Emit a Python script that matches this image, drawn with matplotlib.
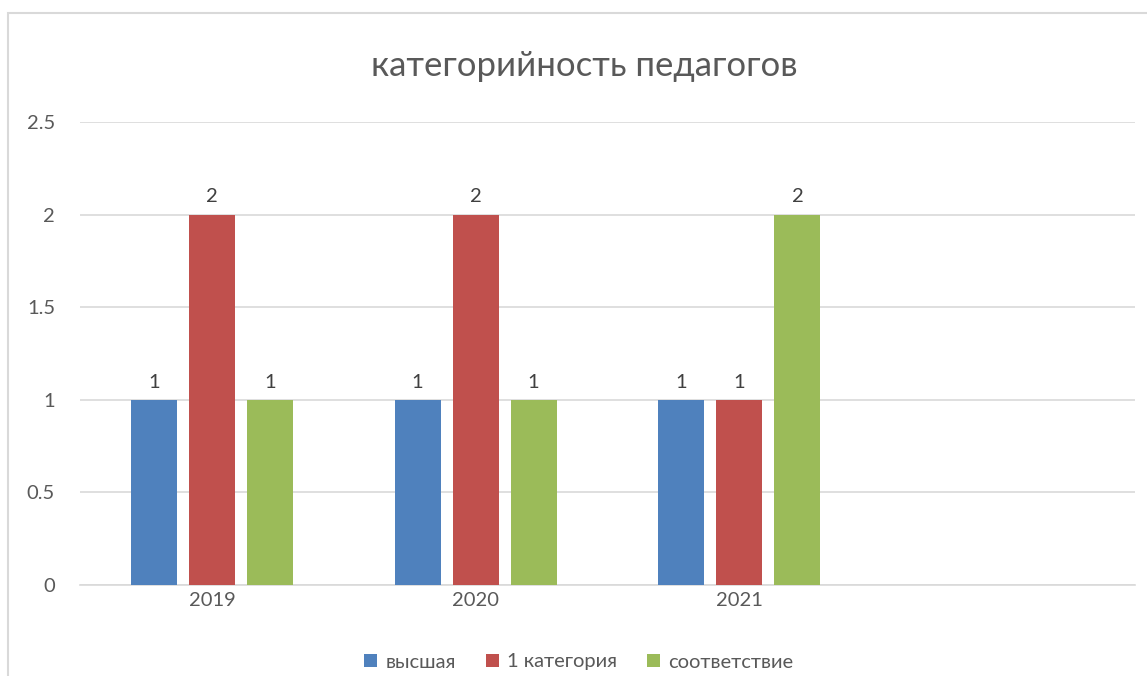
import matplotlib
matplotlib.use("Agg")
import matplotlib.pyplot as plt
from matplotlib.patches import Rectangle
import numpy as np

categories = ["2019", "2020", "2021", ""]
series_names = ["высшая", "1 категория", "соответствие"]
vals_high = [1, 1, 1, None]
vals_first = [2, 2, 1, None]
vals_match = [1, 1, 2, None]
colors = ["#4F81BD", "#C0504D", "#9BBB59"]
yticks = [0, 0.5, 1, 1.5, 2, 2.5]
ytick_labels = ["0", "0.5", "1", "1.5", "2", "2.5"]

plt.rcParams['font.family'] = ['Lato', 'DejaVu Sans']
W, H = 1147, 676
fig = plt.figure(figsize=(W/100, H/100), dpi=100)
# outer chart border (extends past right/bottom)
fig.patches.append(Rectangle((8/W, -0.1), 2, (H-13)/H + 0.1, transform=fig.transFigure,
                             fill=False, edgecolor="#D9D9D9", linewidth=1.5))

left, right, top, bottom = 80, 1135, 122, 585
ax = fig.add_axes([left/W, 1-bottom/H, (right-left)/W, (bottom-top)/H])
x = np.arange(len(categories))
bw = 0.1744
offs = [-0.22, 0, 0.22]
allv = [vals_high, vals_first, vals_match]
for i, (vals, name, c) in enumerate(zip(allv, series_names, colors)):
    xs = [xi + offs[i] for xi, v in zip(x, vals) if v is not None]
    vs = [v for v in vals if v is not None]
    bars = ax.bar(xs, vs, bw, color=c, label=name, zorder=3)
    for b, v in zip(bars, vs):
        ax.text(b.get_x() + b.get_width()/2, v + 0.05, str(v), ha="center", va="bottom",
                fontsize=14.5, color="#404040")

ax.set_xlim(-0.5, len(categories) - 0.5)
ax.set_ylim(0, 2.5)
ax.set_yticks(yticks)
ax.set_yticklabels(ytick_labels)
ax.set_xticks(x[:3])
ax.set_xticklabels(categories[:3])
ax.tick_params(axis="both", length=0, labelsize=14.5, labelcolor="#595959")
ax.tick_params(axis="y", pad=18)
ax.tick_params(axis="x", pad=5)
ax.grid(axis="y", color="#D9D9D9", linewidth=1.2, zorder=0)
for s in ["top", "right", "left"]:
    ax.spines[s].set_visible(False)
ax.spines["bottom"].set_color("#D9D9D9")
ax.spines["bottom"].set_linewidth(1.2)

fig.text(584/W, 1-66/H, "категорийность педагогов", ha="center", va="center",
         fontsize=25, color="#595959")

fig.legend(loc="center", bbox_to_anchor=(579/W, 1-662/H), ncol=3, frameon=False,
           fontsize=14.5, labelcolor="#595959", handlelength=0.65, handleheight=0.65,
           handletextpad=0.4, columnspacing=1.5)

fig.savefig("out.png", dpi=100)
